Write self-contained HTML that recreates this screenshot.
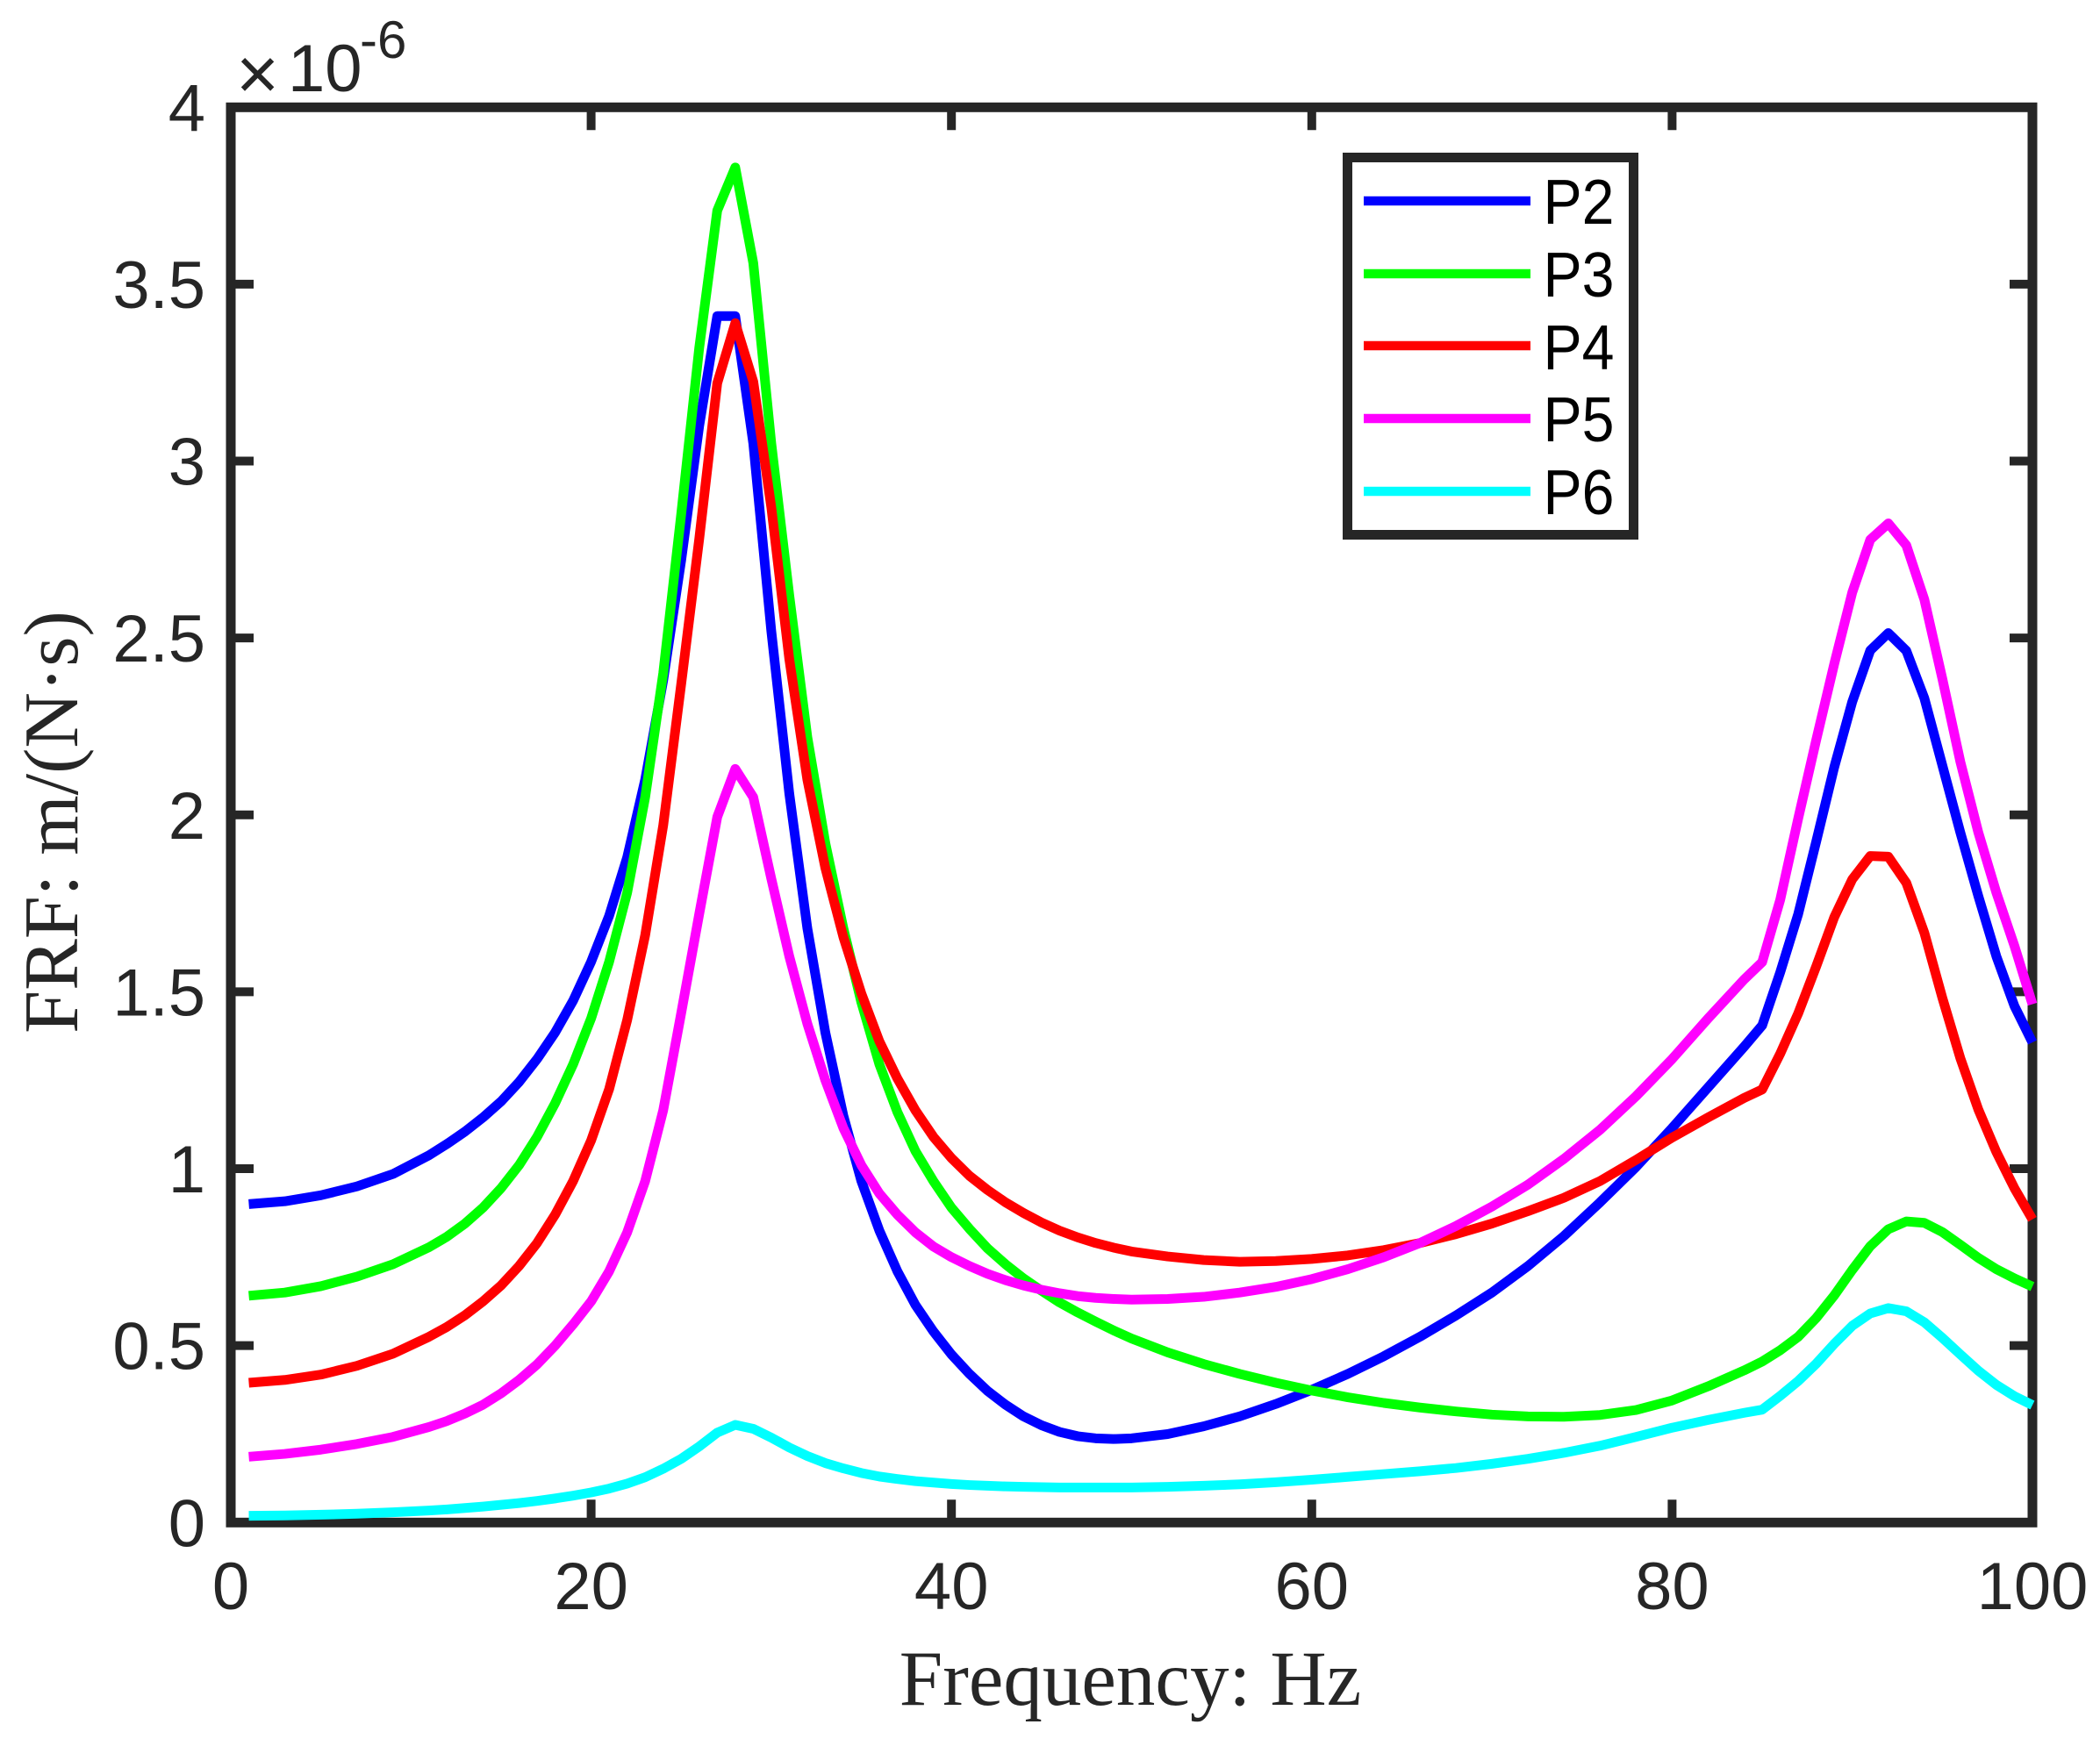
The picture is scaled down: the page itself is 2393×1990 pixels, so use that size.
<!DOCTYPE html>
<html lang="en">
<head>
<meta charset="utf-8">
<title>FRF chart</title>
<style>
html,body{margin:0;padding:0;background:#fff;}
svg{display:block;}
text{font-family:"Liberation Sans",sans-serif;fill:#262626;}
.serif{font-family:"Liberation Serif",serif;}
</style>
</head>
<body>
<svg id="chart" xmlns="http://www.w3.org/2000/svg" width="2393" height="1990" viewBox="0 0 2393 1990">
  <rect x="0" y="0" width="2393" height="1990" fill="#fff"/>
  <g id="axes"></g>
  <g id="series"></g>
  <text x="269" y="113" font-size="84">×</text>
  <text x="328" y="104" font-size="76">10</text>
  <text x="410" y="66" font-size="60">-6</text>
  <text class="serif" x="1288" y="1943" font-size="89" text-anchor="middle">Frequency: Hz</text>
  <text class="serif" x="0" y="0" font-size="88" text-anchor="middle" transform="translate(88 937) rotate(-90)">FRF: m/(N·s)</text>
  <g>
    <rect x="1535.5" y="179.5" width="326" height="430" fill="#fff" stroke="#262626" stroke-width="11"/>
    <line x1="1554" x2="1744" y1="229" y2="229" stroke="#0000ff" stroke-width="10.5"/>
    <line x1="1554" x2="1744" y1="312" y2="312" stroke="#00ff00" stroke-width="10.5"/>
    <line x1="1554" x2="1744" y1="394" y2="394" stroke="#ff0000" stroke-width="10.5"/>
    <line x1="1554" x2="1744" y1="477" y2="477" stroke="#ff00ff" stroke-width="10.5"/>
    <line x1="1554" x2="1744" y1="560" y2="560" stroke="#00ffff" stroke-width="10.5"/>
    <text x="1758.5" y="255" font-size="72" textLength="81" lengthAdjust="spacingAndGlyphs" style="fill:#000">P2</text>
    <text x="1758.5" y="338" font-size="72" textLength="81" lengthAdjust="spacingAndGlyphs" style="fill:#000">P3</text>
    <text x="1758.5" y="421" font-size="72" textLength="81" lengthAdjust="spacingAndGlyphs" style="fill:#000">P4</text>
    <text x="1758.5" y="503" font-size="72" textLength="81" lengthAdjust="spacingAndGlyphs" style="fill:#000">P5</text>
    <text x="1758.5" y="586" font-size="72" textLength="81" lengthAdjust="spacingAndGlyphs" style="fill:#000">P6</text>
  </g>
</svg>
<script>
const xTicks = [0, 20, 40, 60, 80, 100];
const yTicks = [0, 0.5, 1, 1.5, 2, 2.5, 3, 3.5, 4];
const frequency = [1,3,5,7,9,11,12,13,14,15,16,17,18,19,20,21,22,23,24,25,26,27,28,29,30,31,32,33,34,35,36,37,38,39,40,41,42,43,44,45,46,47,48,49,50,52,54,56,58,60,62,64,66,68,70,72,74,76,78,80,82,84,85,86,87,88,89,90,91,92,93,94,95,96,97,98,99,100];
const p2 = [0.90,0.908,0.925,0.95,0.985,1.038,1.07,1.105,1.145,1.19,1.245,1.31,1.385,1.475,1.585,1.715,1.88,2.10,2.38,2.72,3.10,3.41,3.41,3.05,2.52,2.06,1.68,1.385,1.15,0.965,0.825,0.71,0.615,0.54,0.475,0.42,0.372,0.333,0.30,0.275,0.256,0.244,0.238,0.236,0.238,0.25,0.272,0.30,0.335,0.375,0.42,0.47,0.525,0.585,0.65,0.725,0.81,0.905,1.005,1.115,1.23,1.345,1.405,1.555,1.72,1.925,2.135,2.32,2.465,2.514,2.464,2.33,2.14,1.95,1.77,1.60,1.46,1.357];
const p3 = [0.641,0.65,0.668,0.695,0.73,0.778,0.808,0.845,0.89,0.945,1.01,1.09,1.185,1.295,1.425,1.585,1.78,2.05,2.40,2.85,3.32,3.708,3.83,3.56,3.05,2.62,2.22,1.92,1.68,1.47,1.295,1.16,1.05,0.965,0.89,0.83,0.775,0.73,0.69,0.655,0.622,0.594,0.568,0.543,0.52,0.481,0.448,0.42,0.395,0.373,0.354,0.338,0.325,0.314,0.305,0.30,0.299,0.304,0.318,0.345,0.385,0.43,0.455,0.487,0.525,0.578,0.642,0.714,0.781,0.829,0.851,0.847,0.821,0.785,0.748,0.716,0.69,0.667];
const p4 = [0.395,0.403,0.418,0.443,0.477,0.525,0.553,0.586,0.625,0.67,0.725,0.79,0.87,0.965,1.08,1.225,1.42,1.66,1.97,2.37,2.78,3.22,3.39,3.225,2.87,2.44,2.10,1.85,1.655,1.495,1.36,1.255,1.165,1.09,1.03,0.98,0.94,0.905,0.875,0.848,0.825,0.806,0.79,0.777,0.766,0.752,0.742,0.737,0.739,0.745,0.755,0.77,0.79,0.815,0.845,0.88,0.918,0.965,1.025,1.088,1.145,1.2,1.224,1.325,1.439,1.572,1.711,1.818,1.884,1.882,1.808,1.667,1.483,1.312,1.167,1.047,0.945,0.857];
const p5 = [0.186,0.194,0.206,0.222,0.242,0.27,0.287,0.308,0.333,0.365,0.403,0.447,0.50,0.56,0.625,0.71,0.82,0.965,1.165,1.44,1.72,1.994,2.13,2.05,1.82,1.60,1.41,1.25,1.115,1.01,0.93,0.87,0.82,0.78,0.75,0.725,0.703,0.685,0.67,0.658,0.648,0.64,0.635,0.632,0.63,0.632,0.638,0.65,0.666,0.688,0.716,0.75,0.79,0.838,0.893,0.955,1.028,1.11,1.205,1.31,1.425,1.535,1.584,1.76,1.99,2.212,2.427,2.629,2.778,2.824,2.762,2.609,2.385,2.15,1.95,1.78,1.63,1.465];
const p6 = [0.019,0.02,0.022,0.025,0.029,0.034,0.037,0.041,0.045,0.05,0.055,0.061,0.068,0.076,0.085,0.096,0.11,0.128,0.152,0.18,0.215,0.254,0.276,0.265,0.24,0.212,0.188,0.168,0.153,0.14,0.13,0.123,0.117,0.113,0.109,0.106,0.104,0.102,0.101,0.10,0.099,0.099,0.099,0.099,0.099,0.101,0.104,0.108,0.114,0.121,0.129,0.137,0.145,0.154,0.166,0.18,0.197,0.217,0.242,0.268,0.29,0.31,0.319,0.358,0.40,0.449,0.505,0.556,0.591,0.606,0.597,0.566,0.522,0.475,0.429,0.389,0.357,0.332];
const seriesNames = ['p2', 'p3', 'p4', 'p5', 'p6'];
const seriesValues = [p2, p3, p4, p5, p6];
const seriesColors = ['#0000ff', '#00ff00', '#ff0000', '#ff00ff', '#00ffff'];

const NS = 'http://www.w3.org/2000/svg';
const plotLeft = 263, plotRight = 2316, plotTop = 122.3, plotBottom = 1735.3;
const xMin = 0, xMax = 100, yMin = 0, yMax = 4;
const axisColor = '#262626';
function xScale(v) { return plotLeft + (v - xMin) / (xMax - xMin) * (plotRight - plotLeft); }
function yScale(v) { return plotBottom - (v - yMin) / (yMax - yMin) * (plotBottom - plotTop); }
function make(tag, attrs, parent) {
  const el = document.createElementNS(NS, tag);
  for (const k in attrs) el.setAttribute(k, attrs[k]);
  parent.appendChild(el);
  return el;
}
const axes = document.getElementById('axes');
const seriesGroup = document.getElementById('series');
const tickLen = 26, tickW = 10;

xTicks.forEach(function (t) {
  const x = xScale(t);
  if (t !== xMin && t !== xMax) {
    const a = make('line', {x1: x, x2: x, y1: plotBottom, y2: plotBottom - tickLen, stroke: axisColor, 'stroke-width': tickW}, axes);
    
    
    const b = make('line', {x1: x, x2: x, y1: plotTop, y2: plotTop + tickLen, stroke: axisColor, 'stroke-width': tickW}, axes);
    
    
  }
  const l = make('text', {x: x, y: 1834, 'font-size': 76, 'text-anchor': 'middle'}, axes);
  
  
  l.textContent = String(t);
});
yTicks.forEach(function (t) {
  const y = yScale(t);
  if (t !== yMin && t !== yMax) {
    const a = make('line', {x1: plotLeft, x2: plotLeft + tickLen, y1: y, y2: y, stroke: axisColor, 'stroke-width': tickW}, axes);
    
    
    const b = make('line', {x1: plotRight, x2: plotRight - tickLen, y1: y, y2: y, stroke: axisColor, 'stroke-width': tickW}, axes);
    
    
  }
  const l = make('text', {x: 234, y: y + 27, 'font-size': 76, 'text-anchor': 'end'}, axes);
  
  
  l.textContent = String(t);
});
const box = make('rect', {x: plotLeft, y: plotTop, width: plotRight - plotLeft, height: plotBottom - plotTop, fill: 'none', stroke: axisColor, 'stroke-width': 11}, axes);



seriesValues.forEach(function (vals, i) {
  const pts = vals.map(function (v, j) { return xScale(frequency[j]).toFixed(2) + ',' + yScale(v).toFixed(2); }).join(' ');
  const line = make('polyline', {points: pts, fill: 'none', stroke: seriesColors[i], 'stroke-width': 11, 'stroke-linejoin': 'round', 'stroke-linecap': 'butt'}, seriesGroup);
  
  
});
</script>
</body>
</html>
